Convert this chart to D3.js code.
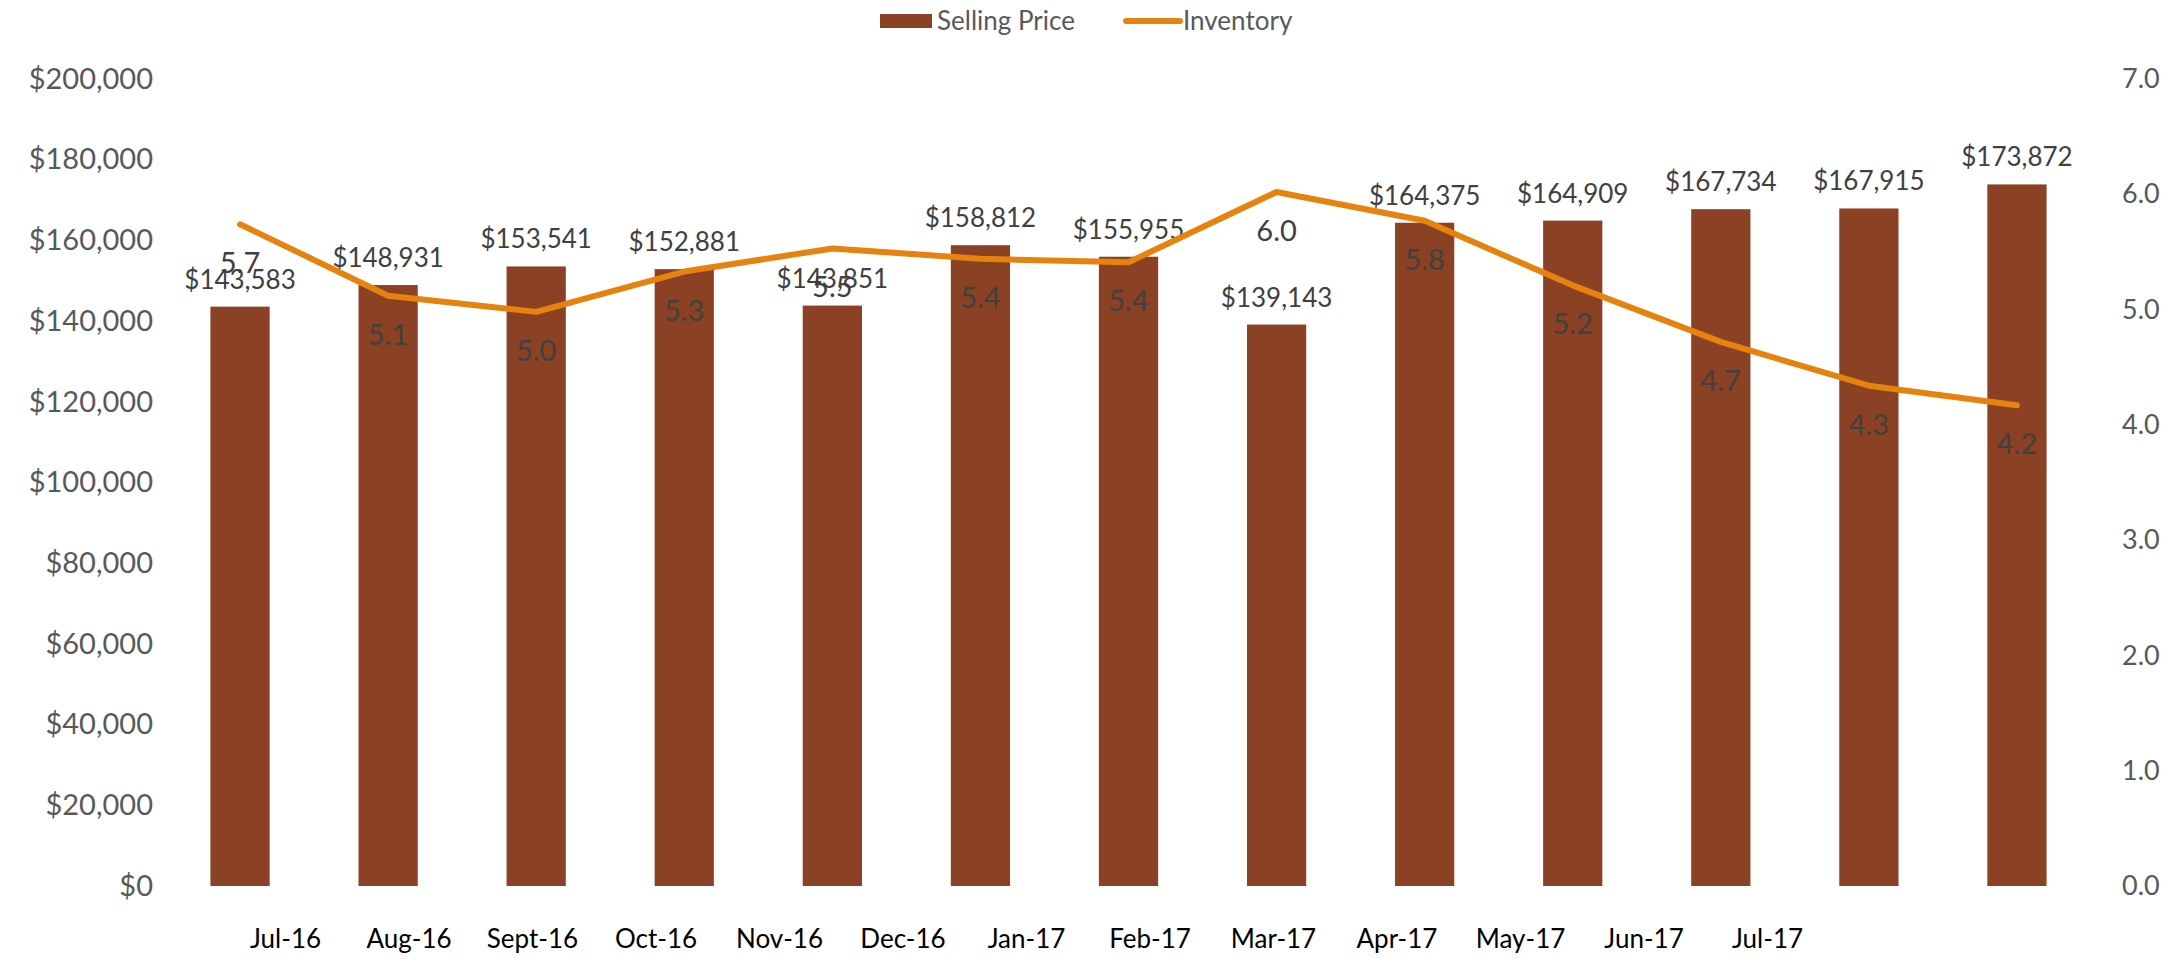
<!DOCTYPE html>
<html>
<head>
<meta charset="utf-8">
<script src="https://cdn.jsdelivr.net/npm/d3@7"></script>
<style>
  html, body { margin: 0; padding: 0; background: #fff; }
  svg { display: block; font-family: Lato, "Open Sans", sans-serif; }
</style>
</head>
<body>
<div id="chart"></div>
<script>
// data
const months = ["Jul-16", "Aug-16", "Sept-16", "Oct-16", "Nov-16", "Dec-16", "Jan-17",
                "Feb-17", "Mar-17", "Apr-17", "May-17", "Jun-17", "Jul-17"];
const sellingPrice = [143583, 148931, 153541, 152881, 143851, 158812, 155955,
                      139143, 164375, 164909, 167734, 167915, 173872];
const inventory = [5.74, 5.12, 4.98, 5.33, 5.53, 5.44, 5.41, 6.02, 5.77, 5.21, 4.72, 4.34, 4.17];
const priceTicks = [0, 20000, 40000, 60000, 80000, 100000, 120000, 140000, 160000, 180000, 200000];
const invTicks = [0, 1, 2, 3, 4, 5, 6, 7];
const seriesNames = ["Selling Price", "Inventory"];

const width = 2177;
const height = 963;
const barColor = "#8B4123";
const lineColor = "#E6820E";

const svg = d3.select("#chart")
    .append("svg")
    .attr("width", width)
    .attr("height", height);

const x = d3.scaleBand()
    .domain(months)
    .range([166, 2091])
    .paddingInner(0.6)
    .paddingOuter(0.3);

// category labels sit on their own, evenly spread, left of the bars
const xLabel = d3.scalePoint()
    .domain(months)
    .range([285, 1767]);

const yLeft = d3.scaleLinear().domain([0, 200000]).range([886, 79]);
const yRight = d3.scaleLinear().domain([0, 7]).range([886, 79]);

const money = d3.format("$,");

// left axis
const leftAxis = svg.append("g")
    .attr("transform", "translate(153,0)")
    .call(d3.axisLeft(yLeft).tickValues(priceTicks).tickFormat(money).tickSize(0).tickPadding(0));
leftAxis.select(".domain").remove();
leftAxis.selectAll("text")
    .style("font-size", "29px")
    .style("font-family", "Lato, sans-serif")
    .style("fill", "#595959");

// right axis
const rightAxis = svg.append("g")
    .attr("transform", "translate(2122,0)")
    .call(d3.axisRight(yRight).tickValues(invTicks).tickFormat(d3.format(".1f")).tickSize(0).tickPadding(0));
rightAxis.select(".domain").remove();
rightAxis.selectAll("text")
    .style("font-size", "27px")
    .style("font-family", "Lato, sans-serif")
    .style("fill", "#595959");

// x labels
const bottomAxis = svg.append("g")
    .attr("transform", "translate(0,930)")
    .call(d3.axisBottom(xLabel).tickSize(0).tickPadding(0));
bottomAxis.select(".domain").remove();
bottomAxis.selectAll("text")
    .style("font-size", "26px")
    .style("font-family", "Lato, sans-serif")
    .style("fill", "#000");

// bars
svg.append("g")
    .selectAll("rect")
    .data(months)
    .enter()
    .append("rect")
    .attr("x", d => x(d))
    .attr("width", x.bandwidth())
    .attr("y", (d, i) => yLeft(sellingPrice[i]))
    .attr("height", (d, i) => yLeft(0) - yLeft(sellingPrice[i]))
    .style("fill", barColor);

// bar labels
svg.append("g")
    .selectAll("text")
    .data(months)
    .enter()
    .append("text")
    .attr("x", d => x(d) + x.bandwidth() / 2)
    .attr("y", (d, i) => yLeft(sellingPrice[i]) - 18)
    .attr("text-anchor", "middle")
    .style("font-size", "26px")
    .style("fill", "#404040")
    .text((d, i) => money(sellingPrice[i]));

// inventory line
const line = d3.line()
    .x((d, i) => x(months[i]) + x.bandwidth() / 2)
    .y(d => yRight(d));

svg.append("path")
    .datum(inventory)
    .attr("d", line)
    .style("fill", "none")
    .style("stroke", lineColor)
    .style("stroke-width", 6)
    .style("stroke-linejoin", "round")
    .style("stroke-linecap", "round");

// line labels, below the points
svg.append("g")
    .selectAll("text")
    .data(inventory)
    .enter()
    .append("text")
    .attr("x", (d, i) => x(months[i]) + x.bandwidth() / 2)
    .attr("y", d => yRight(d) + 49)
    .attr("text-anchor", "middle")
    .style("font-size", "29px")
    .style("fill", "#404040")
    .text(d => d3.format(".1f")(d));

// legend
const legend = svg.append("g");
legend.append("rect")
    .attr("x", 880).attr("y", 14)
    .attr("width", 52).attr("height", 14)
    .style("fill", barColor);
legend.append("text")
    .attr("x", 937).attr("y", 30)
    .style("font-size", "26px")
    .style("fill", "#595959")
    .text(seriesNames[0]);
legend.append("line")
    .attr("x1", 1126).attr("x2", 1180)
    .attr("y1", 21).attr("y2", 21)
    .style("stroke", lineColor)
    .style("stroke-width", 6)
    .style("stroke-linecap", "round");
legend.append("text")
    .attr("x", 1183).attr("y", 30)
    .style("font-size", "26px")
    .style("fill", "#595959")
    .text(seriesNames[1]);
</script>
</body>
</html>
